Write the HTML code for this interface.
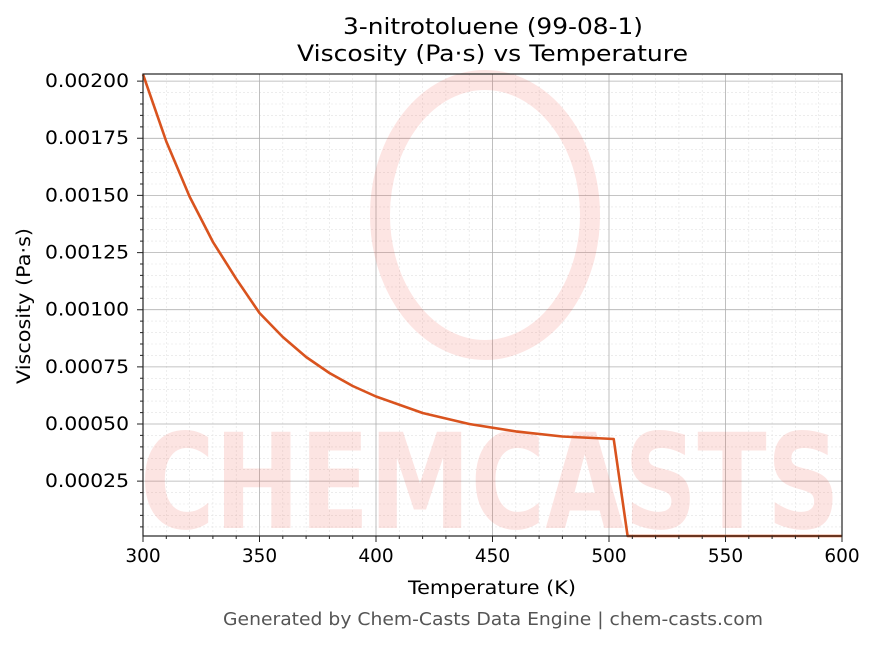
<!DOCTYPE html>
<html><head><meta charset="utf-8"><style>
body{margin:0;background:#fff;}
svg text{font-family:"DejaVu Sans","Liberation Sans",sans-serif;}
</style></head><body>
<svg width="876" height="644" viewBox="0 0 876 644" xmlns="http://www.w3.org/2000/svg">
<rect width="876" height="644" fill="#fff"/>
<g stroke="#e2e2e2" stroke-width="0.6" stroke-dasharray="2,2">
<path d="M166.3 74V536M189.6 74V536M212.9 74V536M236.2 74V536M282.8 74V536M306.1 74V536M329.4 74V536M352.7 74V536M399.3 74V536M422.6 74V536M445.9 74V536M469.2 74V536M515.8 74V536M539.1 74V536M562.4 74V536M585.7 74V536M632.3 74V536M655.6 74V536M678.9 74V536M702.2 74V536M748.8 74V536M772.1 74V536M795.4 74V536M818.7 74V536"/>
<path d="M143 526.9H842M143 515.4H842M143 504H842M143 492.6H842M143 469.7H842M143 458.3H842M143 446.9H842M143 435.4H842M143 412.6H842M143 401.1H842M143 389.7H842M143 378.3H842M143 355.4H842M143 344H842M143 332.6H842M143 321.1H842M143 298.3H842M143 286.9H842M143 275.4H842M143 264H842M143 241.1H842M143 229.7H842M143 218.3H842M143 206.9H842M143 184H842M143 172.6H842M143 161.1H842M143 149.7H842M143 126.9H842M143 115.4H842M143 104H842M143 92.6H842"/>
</g>
<g stroke="#b0b0b0" stroke-width="0.8">
<path d="M259.5 74V536M376 74V536M492.5 74V536M609 74V536M725.5 74V536"/>
<path d="M143 481.1H842M143 424H842M143 366.9H842M143 309.7H842M143 252.6H842M143 195.4H842M143 138.3H842M143 81.1H842"/>
</g>
<g opacity="0.14" fill="#f04a3a">
<text x="140" y="528" font-size="132" font-weight="bold" textLength="700" lengthAdjust="spacingAndGlyphs">CHEMCASTS</text>
<ellipse cx="485" cy="215" rx="105" ry="135" fill="none" stroke="#f04a3a" stroke-width="20"/>
</g>
<polyline fill="none" stroke="#d9531e" stroke-width="2.6" stroke-linejoin="round" points="143,74.3 166.3,141.5 189.6,196.6 212.9,241.9 236.2,278.8 259.5,313 282.8,337 306.1,357 329.4,373 352.7,386 376,396.5 422.6,413 469.2,424 515.8,431.4 562.4,436.5 613.7,439 627.6,536 842,536"/>
<rect x="143" y="74" width="699" height="462" fill="none" stroke="#222" stroke-width="1.2"/>
<g stroke="#222" stroke-width="1">
<path d="M143 536v6M259.5 536v6M376 536v6M492.5 536v6M609 536v6M725.5 536v6M842 536v6"/>
<path d="M143 481.1h-6M143 424h-6M143 366.9h-6M143 309.7h-6M143 252.6h-6M143 195.4h-6M143 138.3h-6M143 81.1h-6"/>
<path d="M166.3 536v3M189.6 536v3M212.9 536v3M236.2 536v3M282.8 536v3M306.1 536v3M329.4 536v3M352.7 536v3M399.3 536v3M422.6 536v3M445.9 536v3M469.2 536v3M515.8 536v3M539.1 536v3M562.4 536v3M585.7 536v3M632.3 536v3M655.6 536v3M678.9 536v3M702.2 536v3M748.8 536v3M772.1 536v3M795.4 536v3M818.7 536v3"/>
<path d="M143 526.9h-3M143 515.4h-3M143 504h-3M143 492.6h-3M143 469.7h-3M143 458.3h-3M143 446.9h-3M143 435.4h-3M143 412.6h-3M143 401.1h-3M143 389.7h-3M143 378.3h-3M143 355.4h-3M143 344h-3M143 332.6h-3M143 321.1h-3M143 298.3h-3M143 286.9h-3M143 275.4h-3M143 264h-3M143 241.1h-3M143 229.7h-3M143 218.3h-3M143 206.9h-3M143 184h-3M143 172.6h-3M143 161.1h-3M143 149.7h-3M143 126.9h-3M143 115.4h-3M143 104h-3M143 92.6h-3"/>
</g>
<g font-size="18.5" fill="#000" text-anchor="middle">
<text x="143" y="562">300</text><text x="259.5" y="562">350</text><text x="376" y="562">400</text><text x="492.5" y="562">450</text><text x="609" y="562">500</text><text x="725.5" y="562">550</text><text x="842" y="562">600</text>
</g>
<g font-size="18.5" fill="#000">
<text x="45" y="487" textLength="84" lengthAdjust="spacingAndGlyphs">0.00025</text><text x="45" y="430" textLength="84" lengthAdjust="spacingAndGlyphs">0.00050</text><text x="45" y="373" textLength="84" lengthAdjust="spacingAndGlyphs">0.00075</text><text x="45" y="315.5" textLength="84" lengthAdjust="spacingAndGlyphs">0.00100</text><text x="45" y="258.5" textLength="84" lengthAdjust="spacingAndGlyphs">0.00125</text><text x="45" y="201.5" textLength="84" lengthAdjust="spacingAndGlyphs">0.00150</text><text x="45" y="144" textLength="84" lengthAdjust="spacingAndGlyphs">0.00175</text><text x="45" y="87" textLength="84" lengthAdjust="spacingAndGlyphs">0.00200</text>
</g>
<text x="408" y="594" font-size="18.5" textLength="168" lengthAdjust="spacingAndGlyphs">Temperature (K)</text>
<text transform="translate(30,384) rotate(-90)" font-size="18.5" textLength="156" lengthAdjust="spacingAndGlyphs">Viscosity (Pa·s)</text>
<text x="343" y="34" font-size="22.5" textLength="300" lengthAdjust="spacingAndGlyphs">3-nitrotoluene (99-08-1)</text>
<text x="297" y="61" font-size="22.5" textLength="391" lengthAdjust="spacingAndGlyphs">Viscosity (Pa·s) vs Temperature</text>
<text x="223" y="625" font-size="17.5" fill="#555" textLength="540" lengthAdjust="spacingAndGlyphs">Generated by Chem-Casts Data Engine | chem-casts.com</text>
</svg>
</body></html>
